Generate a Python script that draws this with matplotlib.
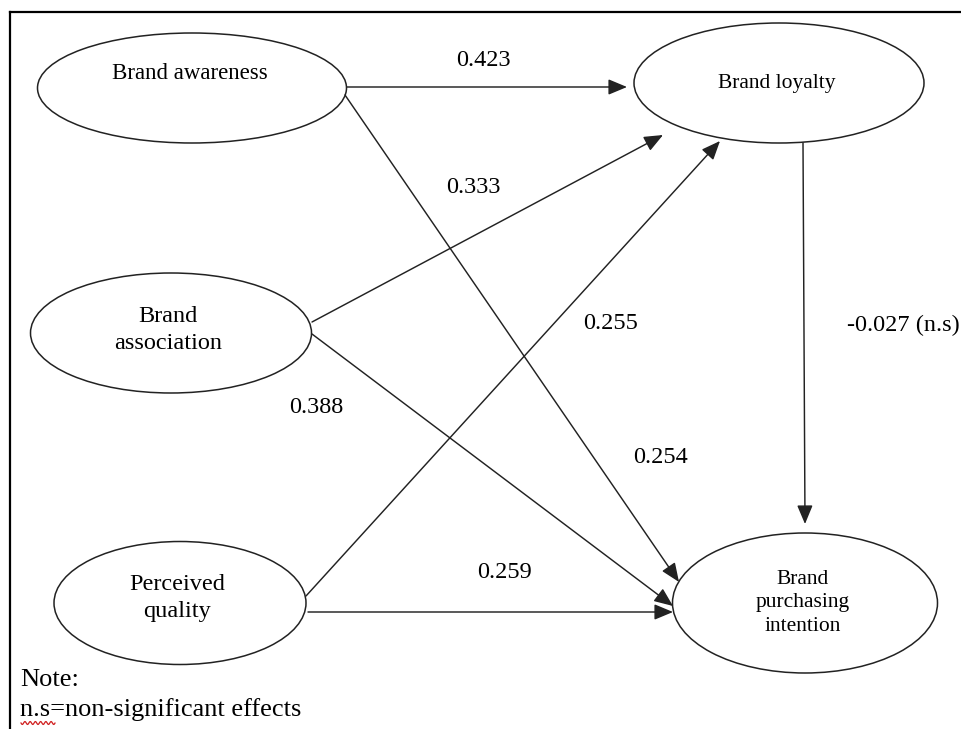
import numpy as np
import matplotlib.pyplot as plt
from matplotlib.patches import Ellipse

# ---- data ----
node_names = ['awareness', 'association', 'quality', 'loyalty', 'intention']
node_labels = ['Brand awareness', 'Brand\nassociation', 'Perceived\nquality',
               'Brand loyalty', 'Brand\npurchasing\nintention']
path_from = ['awareness', 'awareness', 'association', 'association', 'quality', 'quality', 'loyalty']
path_to = ['loyalty', 'intention', 'loyalty', 'intention', 'loyalty', 'intention', 'intention']
path_coef = ['0.423', '0.254', '0.333', '0.388', '0.255', '0.259', '-0.027 (n.s)']
note_lines = ['Note:', 'n.s=non-significant effects']

# ---- layout (pixel space, y down) ----
node_center = {'awareness': (192, 88), 'association': (171, 333), 'quality': (180, 603),
               'loyalty': (779, 83), 'intention': (805, 603)}
node_size = {'awareness': (309, 110), 'association': (281, 120), 'quality': (252, 123),
             'loyalty': (290, 120), 'intention': (265, 140)}
label_pos = {'awareness': (190, 73), 'association': (168, 330), 'quality': (177, 598),
             'loyalty': (777, 83), 'intention': (803, 603)}
label_size = {'awareness': 16.5, 'association': 17.5, 'quality': 17.5,
              'loyalty': 15.5, 'intention': 15.5}
label_spacing = {'awareness': 1.2, 'association': 1.32, 'quality': 1.4,
                 'loyalty': 1.2, 'intention': 1.35}
arrow_start = [(347, 87), (345, 95), (312, 322), (312, 334), (306, 596), (308, 612), (803, 143)]
arrow_end = [(627, 87), (679, 582), (663, 135), (673, 606), (720, 141), (673, 612), (805, 524)]
coef_pos = [(483, 60), (661, 457), (473, 187), (316, 407), (611, 323), (505, 572), (903, 325)]

fig = plt.figure(figsize=(9.61, 7.29), dpi=100)
ax = fig.add_axes([0, 0, 1, 1])
ax.set_xlim(0, 961)
ax.set_ylim(729, 0)
ax.axis('off')

serif = 'Liberation Serif'

# open frame (top + left)
ax.plot([10, 961], [12, 12], color='black', lw=1.6)
ax.plot([10, 10], [12, 729], color='black', lw=1.6)

for name, lab in zip(node_names, node_labels):
    w, h = node_size[name]
    ax.add_patch(Ellipse(node_center[name], w, h, fill=False, ec='#222222', lw=1.1))
    ax.text(*label_pos[name], lab, ha='center', va='center', family=serif,
            fontsize=label_size[name], linespacing=label_spacing[name])

for s, e, c, p in zip(arrow_start, arrow_end, path_coef, coef_pos):
    ax.annotate('', xy=e, xytext=s,
                arrowprops=dict(arrowstyle='-|>,head_length=1.15,head_width=0.48',
                                mutation_scale=10, color='#222222', lw=1.05,
                                shrinkA=0, shrinkB=0))
    ax.text(*p, c, ha='center', va='center', family=serif, fontsize=17.5)

ax.text(20, 680, note_lines[0], ha='left', va='center', family=serif, fontsize=19)
ax.text(20, 710, note_lines[1], ha='left', va='center', family=serif, fontsize=19)

# spell-check squiggle under "n.s"
xs = np.linspace(21, 55, 60)
ax.plot(xs, 723 + 1.5 * np.sin((xs - 21) * 1.2), color='#d02020', lw=0.9)

fig.savefig('out.png', dpi=100)
